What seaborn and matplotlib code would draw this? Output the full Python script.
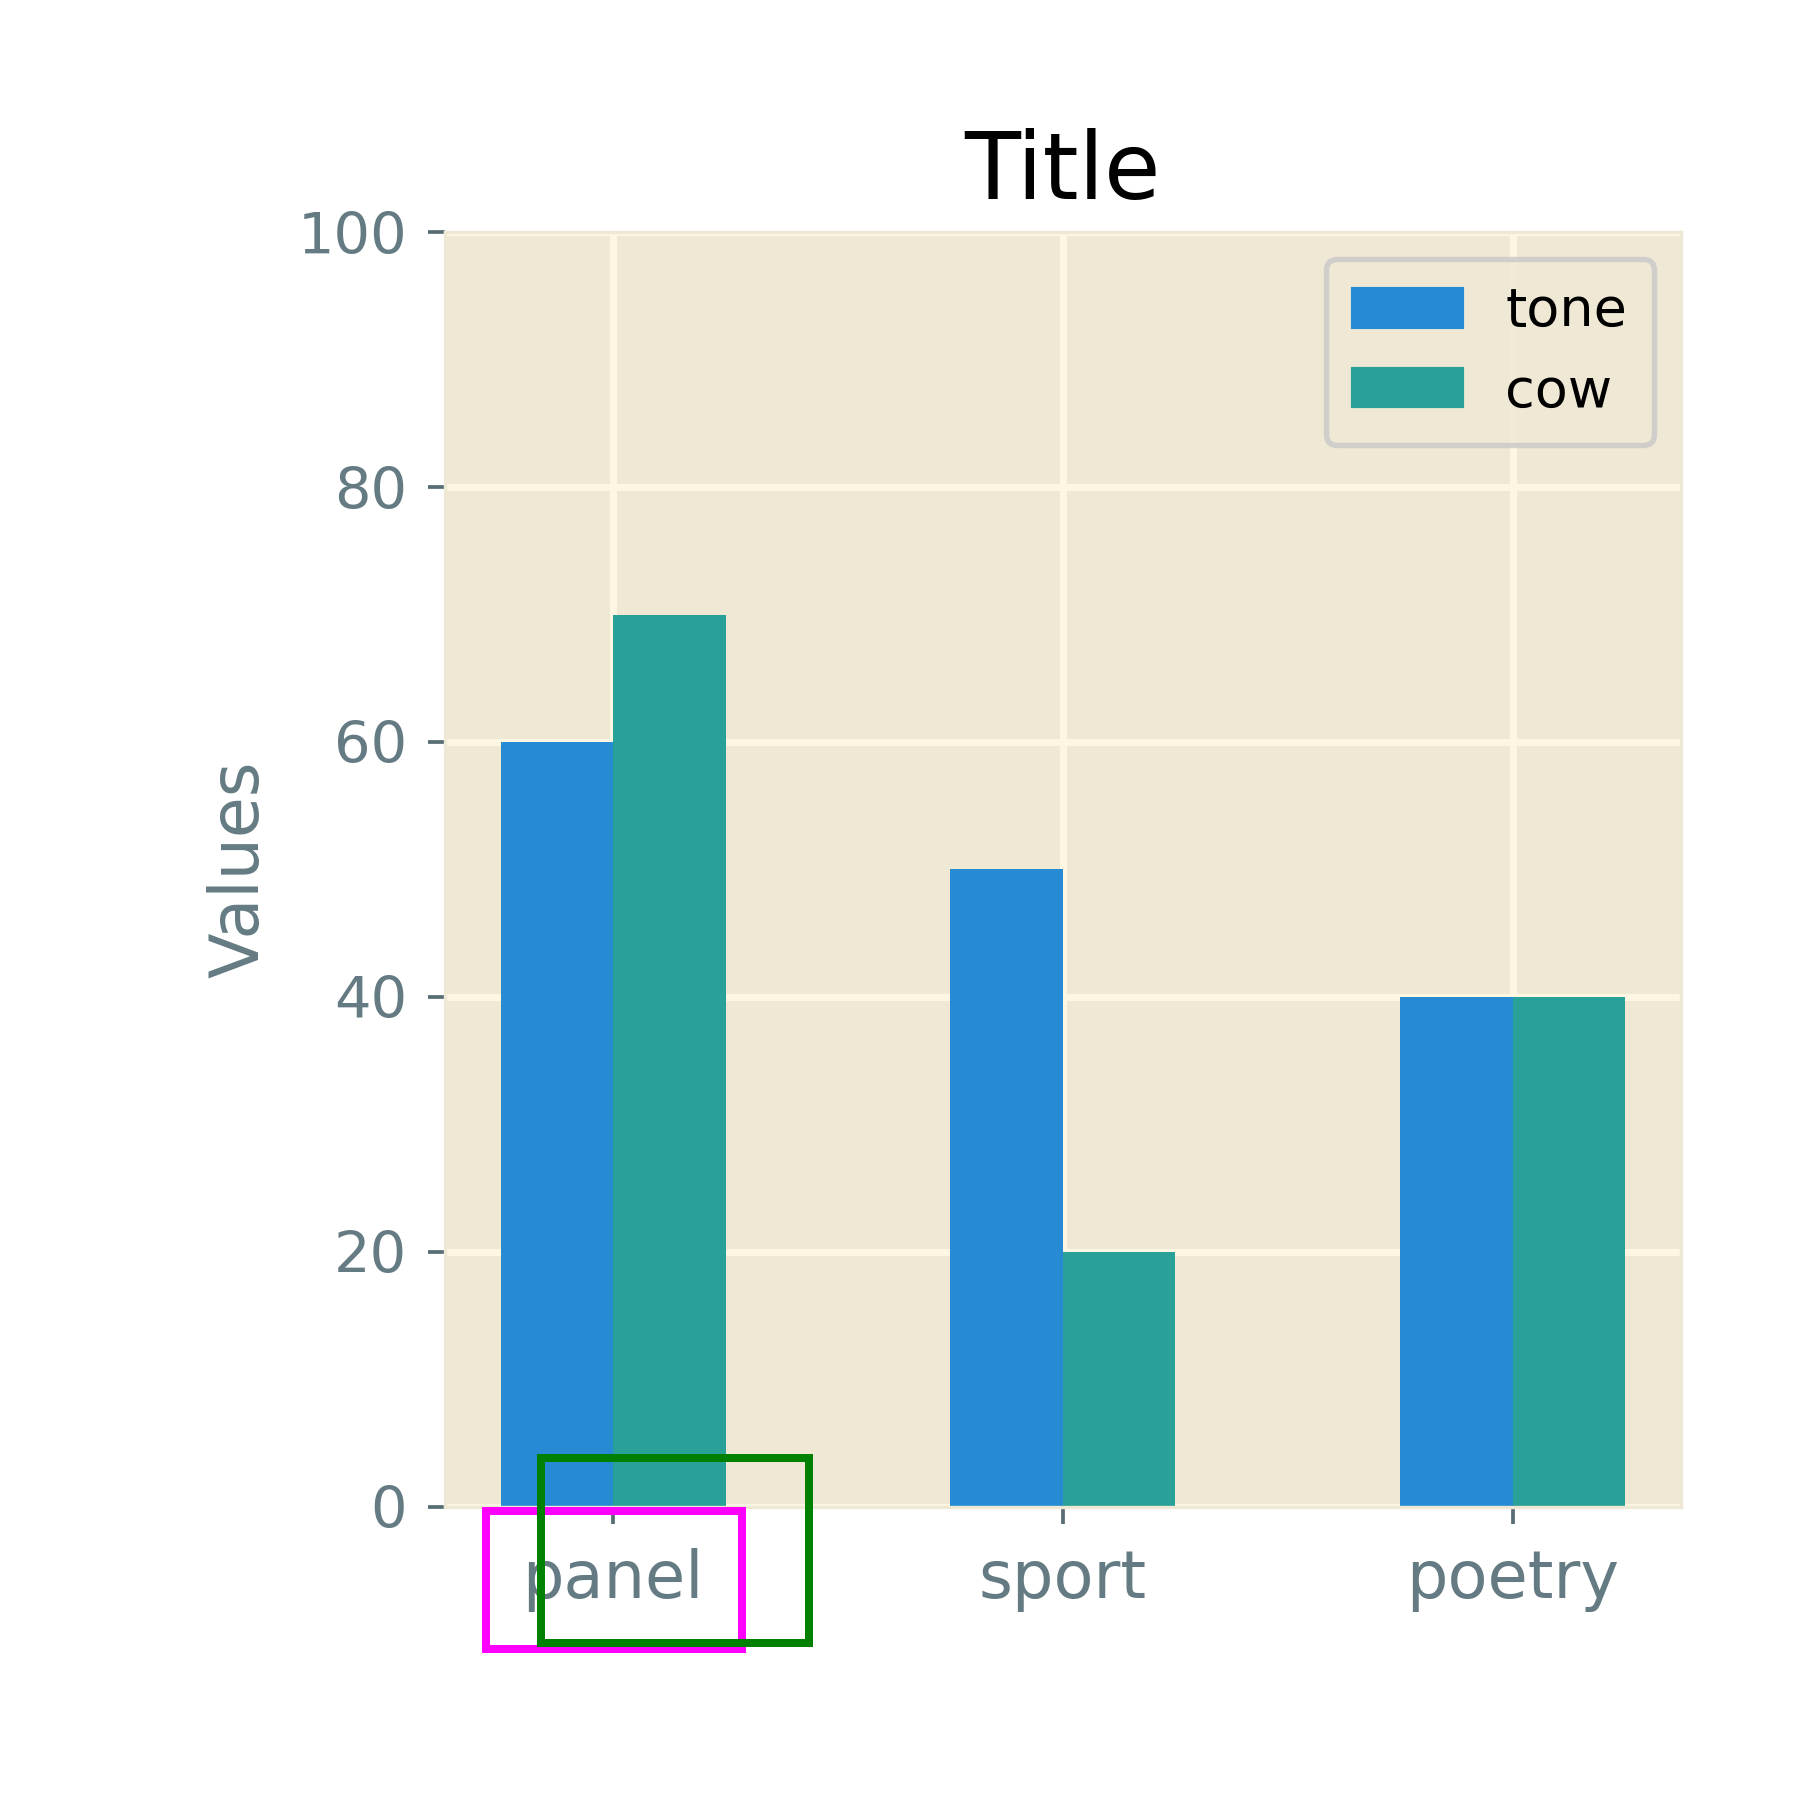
import matplotlib
matplotlib.use("Agg")
import matplotlib.pyplot as plt
from matplotlib.patches import Rectangle
import seaborn as sns
import pandas as pd

categories = ["panel", "sport", "poetry"]
series_names = ["tone", "cow"]
tone_values = [60, 50, 40]
cow_values = [70, 20, 40]
y_ticks = [0, 20, 40, 60, 80, 100]

colors = ["#268BD2", "#2AA198"]

df = pd.DataFrame({
    "category": categories * 2,
    "series": [series_names[0]] * 3 + [series_names[1]] * 3,
    "value": tone_values + cow_values,
})

sns.set_theme(style="white")
plt.rcParams["font.family"] = ["DejaVu Sans"]

fig = plt.figure(figsize=(6, 6), dpi=300, facecolor="white")
ax = fig.add_axes([0.247, 0.163, 0.687, 0.708])
ax.set_facecolor("#eee8d5")

sns.barplot(data=df, x="category", y="value", hue="series", order=categories,
            hue_order=series_names, palette=colors, width=0.5, gap=0,
            saturation=1, linewidth=0, errorbar=None, ax=ax, legend=False)

ax.set_axisbelow(True)
ax.grid(True, axis="both", color="#fdf6e3", linewidth=1.7)
ax.set_xlim(-0.375, 2.375)
ax.set_ylim(0, 100)
ax.set_yticks(y_ticks)
for s in ax.spines.values():
    s.set_color("#eee8d5")
    s.set_linewidth(0.8)

ax.tick_params(axis="both", direction="out", color="#586e75", length=4,
               width=0.9, labelcolor="#657b83", bottom=True, left=True)
ax.tick_params(axis="y", labelsize=13.8, pad=5)
ax.tick_params(axis="x", labelsize=15.7, pad=6)
ax.set_xlabel("")
ax.set_ylabel("Values", fontsize=16, color="#657b83", labelpad=6)
ax.set_title("Title", fontsize=22, color="black", pad=8)

handles = [Rectangle((0, 0), 1, 1, color=c) for c in colors]
leg = ax.legend(handles, series_names, loc="upper right", fontsize=13,
                frameon=True, fancybox=True, framealpha=0.8,
                edgecolor="#c8c8c8", facecolor="#eee8d5",
                borderpad=0.5, labelspacing=0.5)
leg.get_frame().set_linewidth(1.3)
for t in leg.get_texts():
    t.set_color("black")

fig.add_artist(Rectangle((0.270, 0.0839), 0.142, 0.0767, transform=fig.transFigure,
                         fill=False, edgecolor="magenta", linewidth=1.92, clip_on=False))
fig.add_artist(Rectangle((0.3006, 0.0872), 0.1489, 0.1028, transform=fig.transFigure,
                         fill=False, edgecolor="green", linewidth=1.92, clip_on=False))

fig.savefig("out.png", dpi=300, facecolor="white")
